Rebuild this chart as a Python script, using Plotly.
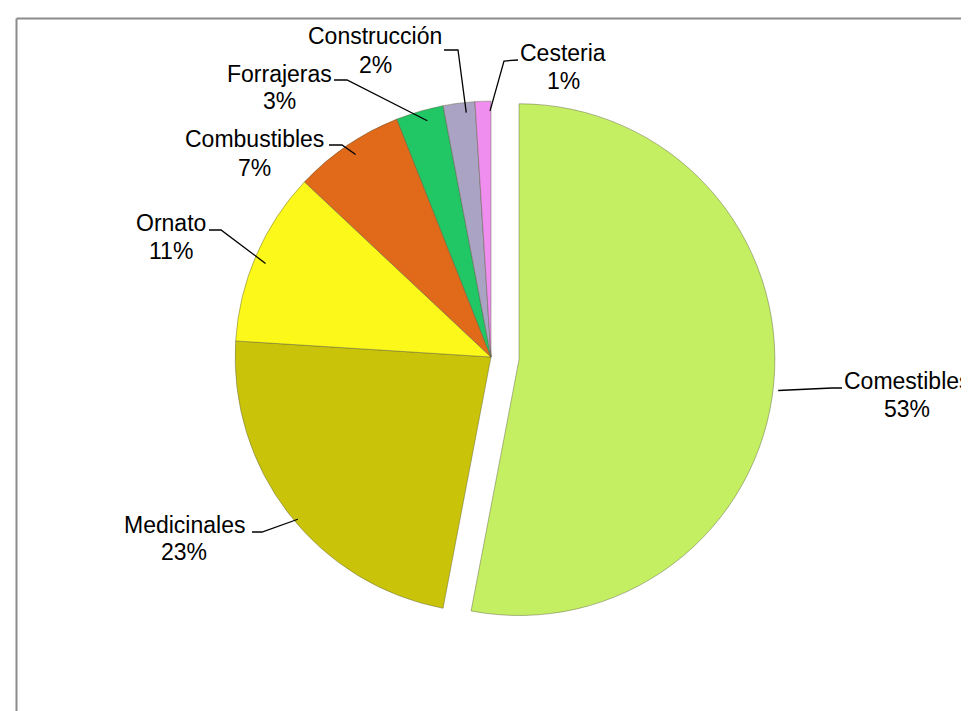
import math
import plotly.graph_objects as go

labels = ["Comestibles", "Medicinales", "Ornato", "Combustibles", "Forrajeras", "Construcción", "Cesteria"]
values = [53, 23, 11, 7, 3, 2, 1]
colors = ["#c4ef63", "#c9c40a", "#fbf81a", "#e0691a", "#20c764", "#aba3c4", "#f08ef0"]
pulls = [0.11, 0, 0, 0, 0, 0, 0]

# label layout (pixel x centre, y of name line, y of percent line) and leader stubs; layout only
label_pos = [(899, 373, 401), (176, 517, 544), (163, 215, 243), (246, 131, 160),
             (271, 66, 93), (367, 28, 57), (555, 45, 73)]
stub_pts = [((834, 380), (824, 380)), ((244, 524), (254, 524)), ((201, 222), (213, 222)),
            ((321, 137), (334, 137)), ((326, 72), (339, 72)), ((436, 42), (450, 42)),
            ((510, 52), (496, 53))]

W, H = 969, 711
cx, cy = 490, 356          # intended pie centre (px)
dcx, dcy = 483, 349        # domain centre compensating plotly's offset
half = 284
r = half / (1 + max(pulls))

FONT = dict(family="Liberation Sans, Arial", size=23, color="#000000")

fig = go.Figure(go.Pie(
    labels=labels, values=values, sort=False, direction="clockwise", rotation=0,
    pull=pulls,
    marker=dict(colors=colors, line=dict(color="rgba(90,90,60,0.55)", width=0.8)),
    textinfo="none",
    showlegend=False, hoverinfo="label+percent",
    domain=dict(x=[(dcx - half) / W, (dcx + half) / W], y=[1 - (dcy + half) / H, 1 - (dcy - half) / H]),
))

total = sum(values)
cum = 0
shapes = []
annotations = []
for i, (lab, v) in enumerate(zip(labels, values)):
    mid = (cum + v / 2) / total * 2 * math.pi
    cum += v
    ox = cx + pulls[i] * r * math.sin(mid)
    oy = cy - pulls[i] * r * math.cos(mid)
    ex = ox + 0.99 * r * math.sin(mid)
    ey = oy - 0.99 * r * math.cos(mid)
    (sx, sy), (bx, by) = stub_pts[i]
    path = "M {} {} L {} {} L {} {}".format(sx / W, 1 - sy / H, bx / W, 1 - by / H, ex / W, 1 - ey / H)
    shapes.append(dict(type="path", xref="paper", yref="paper", path=path,
                       line=dict(color="#000000", width=1.3)))
    lx, ly1, ly2 = label_pos[i]
    pct = round(100 * v / total)
    for txt, yy in ((lab, ly1), ("{}%".format(pct), ly2)):
        annotations.append(dict(x=lx / W, y=1 - yy / H, xref="paper", yref="paper",
                                text=txt, showarrow=False, font=FONT,
                                xanchor="center", yanchor="middle"))

shapes.append(dict(type="line", xref="paper", yref="paper", x0=8.5 / W, x1=1.02, y0=1 - 10.5 / H, y1=1 - 10.5 / H,
                   line=dict(color="#8c8c8c", width=2)))
shapes.append(dict(type="line", xref="paper", yref="paper", x0=8.5 / W, x1=8.5 / W, y0=-0.02, y1=1 - 10.5 / H,
                   line=dict(color="#8c8c8c", width=2)))

fig.update_layout(
    width=W, height=H, margin=dict(l=0, r=0, t=0, b=0, autoexpand=False),
    paper_bgcolor="white", plot_bgcolor="white",
    shapes=shapes, annotations=annotations,
)

fig.write_html("out.html")
